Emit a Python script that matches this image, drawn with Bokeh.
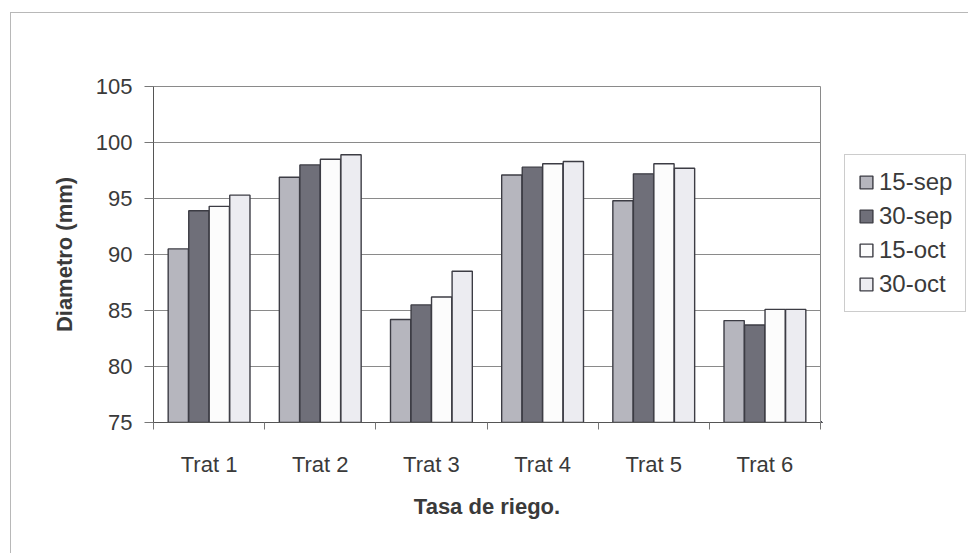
from bokeh.plotting import figure
from bokeh.layouts import row
from bokeh.models import ColumnDataSource, Range1d, FixedTicker, Legend, LegendItem
from bokeh.embed import file_html
from bokeh.resources import INLINE

categories = ["Trat 1", "Trat 2", "Trat 3", "Trat 4", "Trat 5", "Trat 6"]
series = ["15-sep", "30-sep", "15-oct", "30-oct"]
v_15sep = [90.5, 96.9, 84.2, 97.1, 94.8, 84.1]
v_30sep = [93.9, 98.0, 85.5, 97.8, 97.2, 83.7]
v_15oct = [94.3, 98.5, 86.2, 98.1, 98.1, 85.1]
v_30oct = [95.3, 98.9, 88.5, 98.3, 97.7, 85.1]
y_ticks = [75, 80, 85, 90, 95, 100, 105]

values = [v_15sep, v_30sep, v_15oct, v_30oct]
colors = ["#b6b6be", "#6f6f79", "#fcfcfc", "#ececf1"]
offsets = [-0.277, -0.092, 0.092, 0.277]
bar_w = 0.182

FONT = "Liberation Sans"
TXT = "#3a3a3a"
EDGE = "#3c3c44"

p = figure(width=810, height=541, output_backend="svg", toolbar_location=None,
           x_range=Range1d(0, len(categories)), y_range=Range1d(75, 105),
           min_border_left=142, min_border_right=1, min_border_top=73,
           min_border_bottom=132,
           background_fill_color="white", border_fill_color="white")

sources = []
for i, (name, vals) in enumerate(zip(series, values)):
    xs = [k + 0.5 + offsets[i] for k in range(len(categories))]
    src = ColumnDataSource(dict(x=xs, top=vals, cat=categories))
    sources.append(src)
    p.vbar(x="x", top="top", bottom=75, width=bar_w, source=src,
           fill_color=colors[i], line_color=EDGE, line_width=1.4)

# axes
p.xaxis.ticker = FixedTicker(ticks=[k + 0.5 for k in range(len(categories))],
                             minor_ticks=list(range(len(categories) + 1)))
p.xaxis.major_label_overrides = {k + 0.5: c for k, c in enumerate(categories)}
p.xaxis.major_tick_line_color = None
p.xaxis.major_tick_out = 0
p.xaxis.major_tick_in = 0
p.xaxis.minor_tick_out = 7
p.xaxis.minor_tick_in = 0
p.xaxis.minor_tick_line_color = "#777777"
p.xaxis.axis_line_color = "#555555"
p.xaxis.major_label_standoff = 22
p.xaxis.axis_label = "Tasa de riego."
p.xaxis.axis_label_standoff = 14

p.yaxis.ticker = FixedTicker(ticks=y_ticks)
p.yaxis.major_tick_out = 9
p.yaxis.major_tick_in = 0
p.yaxis.minor_tick_line_color = None
p.yaxis.major_tick_line_color = "#777777"
p.yaxis.axis_line_color = "#555555"
p.yaxis.major_label_standoff = 12
p.yaxis.axis_label = "Diametro (mm)"
p.yaxis.axis_label_standoff = 16

for ax in (p.xaxis[0], p.yaxis[0]):
    ax.major_label_text_font = FONT
    ax.major_label_text_font_size = "22px"
    ax.major_label_text_color = TXT
    ax.axis_label_text_font = FONT
    ax.axis_label_text_font_size = "22px"
    ax.axis_label_text_font_style = "bold"
    ax.axis_label_text_color = TXT

p.xgrid.grid_line_color = None
p.ygrid.ticker = FixedTicker(ticks=y_ticks)
p.ygrid.grid_line_color = "#8a8a8a"
p.ygrid.grid_line_width = 1
p.outline_line_color = "#8a8a8a"
p.outline_line_width = 1

# legend panel (separate figure so the legend sits outside the plot area);
# both of its ranges lie away from the data so no bar is shown there
q = figure(width=148, height=541, output_backend="svg", toolbar_location=None,
           x_range=Range1d(len(categories) + 0.6, len(categories) + 1.6),
           y_range=Range1d(200, 230),
           min_border_left=0, min_border_right=0, min_border_top=0, min_border_bottom=0,
           background_fill_color="white", border_fill_color="white")
q.axis.visible = False
q.grid.visible = False
q.outline_line_color = None
items = []
for i, name in enumerate(series):
    r = q.vbar(x="x", top="top", bottom=75, width=bar_w, source=sources[i],
               fill_color=colors[i], line_color=EDGE, line_width=1.4)
    items.append(LegendItem(label=name, renderers=[r]))

legend = Legend(items=items, location=(23, 110), orientation="vertical")
legend.label_text_font = FONT
legend.label_text_font_size = "24px"
legend.label_text_color = TXT
legend.glyph_width = 16
legend.glyph_height = 16
legend.label_standoff = 5
legend.label_height = 26
legend.spacing = 6
legend.padding = 13
legend.margin = 0
legend.border_line_color = "#9a9a9a"
legend.border_line_width = 1
legend.background_fill_color = "white"
q.add_layout(legend, "center")

layout = row(p, q, margin=(12, 0, 0, 10),
             styles={"border": "1px solid #b8b8b8", "box-sizing": "border-box"})

open("out.html", "w").write(file_html(layout, INLINE))
